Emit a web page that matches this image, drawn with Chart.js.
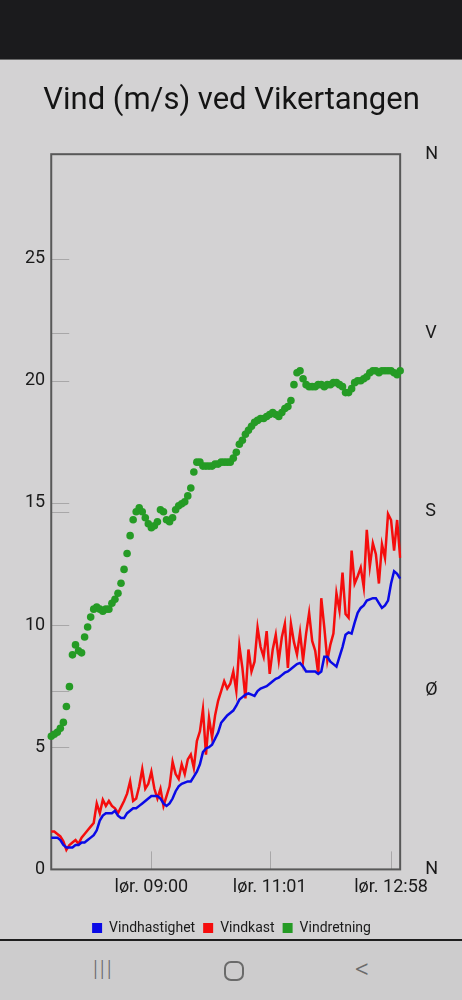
<!DOCTYPE html>
<html>
<head>
<meta charset="utf-8">
<script src="https://cdn.jsdelivr.net/npm/chart.js@4.4.1/dist/chart.umd.min.js"></script>
<style>
  html, body { margin: 0; padding: 0; width: 462px; height: 1000px; overflow: hidden; background: #d3d2d3; font-family: Roboto, "Noto Sans", sans-serif; }
  #status { position: absolute; left: 0; top: 0; width: 462px; height: 60px; background: #1b1b1d; border-bottom: 1px solid #6a6a6a; box-sizing: border-box; }
  #wrap { position: absolute; left: 0; top: 60px; width: 462px; height: 891px; }
  #nav { position: absolute; left: 0; top: 939px; width: 462px; height: 61px; background: #cdcccd; border-top: 2px solid #1e1e1e; box-sizing: border-box; }
  .navi { position: absolute; top: 14px; color: #6a6a6a; font-family: Roboto, sans-serif; font-weight: 300; font-size: 22px; line-height: 28px; }
  #n1 { left: 93px; letter-spacing: 2px; }
  #n2 { left: 224px; top: 20px; width: 16px; height: 16px; border: 2px solid #6a6a6a; border-radius: 7px; }
  #n3 { left: 355px; font-size: 28px; }
</style>
</head>
<body>
<div id="status"></div>
<div id="wrap"><canvas id="c"></canvas></div>
<div id="nav"><div class="navi" id="n1">|||</div><div class="navi" id="n2"></div><div class="navi" id="n3">&lt;</div></div>
<script>
const titleText = "Vind (m/s) ved Vikertangen";
const dayPrefix = "lør.";
const timeLabels = ["07:21","07:24","07:27","07:30","07:33","07:36","07:39","07:42","07:45","07:48","07:51","07:54","07:57","08:00","08:03","08:06","08:09","08:12","08:15","08:18","08:21","08:24","08:27","08:30","08:33","08:36","08:39","08:42","08:45","08:48","08:51","08:54","08:57","09:00",
"09:03","09:06","09:09","09:12","09:15","09:18","09:21","09:24","09:27","09:31","09:34","09:37","09:40","09:43","09:46","09:49","09:52","09:56","09:59","10:02","10:05","10:08","10:11","10:14","10:17","10:20","10:24","10:27","10:30","10:33","10:36","10:39","10:42","10:45","10:48","10:51","10:55","10:58","11:01",
"11:04","11:07","11:10","11:13","11:16","11:19","11:22","11:25","11:27","11:30","11:33","11:36","11:39","11:42","11:45","11:48","11:51","11:54","11:57","12:00","12:03","12:05","12:08","12:11","12:14","12:17","12:20","12:23","12:26","12:29","12:32","12:35","12:37","12:40","12:43","12:46","12:49","12:52","12:55","12:58","13:01","13:04","13:07"];
const shownTimes = ["09:00","11:01","12:58"];

const windSpeed = [1.3,1.3,1.3,1.2,1.0,0.9,0.9,0.9,1.0,1.0,1.1,1.1,1.2,1.3,1.4,1.6,2.0,2.2,2.3,2.3,
2.3,2.4,2.2,2.1,2.1,2.3,2.4,2.5,2.5,2.6,2.7,2.8,2.9,3.0,3.0,3.0,2.9,2.7,2.6,2.7,
2.9,3.2,3.4,3.5,3.55,3.6,3.6,3.8,4.0,4.3,4.8,4.95,5.0,5.1,5.35,5.6,6.0,6.15,6.3,6.4,
6.5,6.7,6.95,7.05,7.15,7.2,7.15,7.1,7.3,7.4,7.45,7.5,7.6,7.7,7.8,7.85,7.95,8.05,8.1,8.2,
8.3,8.4,8.45,8.3,8.1,8.1,8.1,8.1,8.0,8.1,8.7,8.7,8.5,8.4,8.3,8.7,9.1,9.6,9.7,9.65,
10.1,10.5,10.7,10.8,11.0,11.05,11.1,11.1,10.9,10.7,10.8,11.0,11.7,12.2,12.1,11.9];

const windGust = [1.55,1.55,1.45,1.35,1.15,0.8,1.0,1.1,1.2,1.05,1.3,1.45,1.6,1.75,1.9,2.7,2.3,2.85,2.6,2.8,
2.6,2.5,2.3,2.55,2.8,3.1,3.6,2.8,2.9,3.4,4.1,3.3,3.5,4.0,3.3,2.9,3.3,2.6,3.0,3.4,
4.4,3.9,3.7,4.3,3.9,4.5,4.7,4.15,5.25,5.65,6.55,4.7,6.2,5.4,6.3,6.9,7.3,7.7,7.4,7.6,
8.1,7.3,9.15,8.25,7.0,9.0,8.1,8.5,9.9,9.1,8.7,9.75,8.0,9.0,9.6,8.55,9.5,10.05,8.25,10.05,
9.3,8.8,9.7,8.55,9.65,10.5,9.35,8.95,8.0,11.1,9.9,8.55,9.2,9.65,11.3,10.6,12.15,10.45,10.3,13.05,
11.7,12.0,12.35,11.55,13.9,12.4,13.35,12.9,11.7,13.3,12.75,14.55,14.3,13.05,14.3,12.75];

const windDir = [67,68,69,71,74,82,92,108,113,110,109,117,122,127,131,132,131,130,131,131,
134,136,139,144,151,159,168,176,180,182,180,177,174,172,173,175,181,180,176,175,
177,181,183,184,185,188,192,200,205,205,203,203,203,203,204,204,205,205,205,205,
207,210,214,216,219,221,223,225,226,227,227,228,229,230,229,228,230,232,233,236,
244,250,251,247,244,243,243,243,244,244,243,244,244,245,245,244,243,240,240,242,
245,246,246,247,248,250,251,251,250,251,251,251,251,250,249,251];

const speedTicks = [0,5,10,15,20,25];
const dirTickLabels = ["N","Ø","S","V","N"];
const seriesNames = ["Vindhastighet","Vindkast","Vindretning"];
const seriesColors = ["#0a0ae6","#f50d0d","#259b25"];

const framePlugin = {
  id: 'framePlugin',
  beforeDatasetsDraw(chart) {
    const {ctx, chartArea: a, scales} = chart;
    ctx.save();
    ctx.strokeStyle = '#a8a7a8';
    ctx.lineWidth = 1;
    ctx.beginPath();
    [scales.y, scales.y1].forEach(s => {
      s.ticks.forEach(t => {
        const py = Math.round(s.getPixelForValue(t.value)) + 0.5;
        ctx.moveTo(a.left, py); ctx.lineTo(a.left + 18, py);
      });
    });
    scales.x.ticks.forEach(t => {
      if (shownTimes.includes(timeLabels[t.value])) {
        const px = Math.round(scales.x.getPixelForValue(t.value)) + 0.5;
        ctx.moveTo(px, a.bottom); ctx.lineTo(px, a.bottom - 18);
      }
    });
    ctx.stroke();
    ctx.strokeStyle = '#585858';
    ctx.lineWidth = 2;
    ctx.strokeRect(a.left, a.top, a.right - a.left, a.bottom - a.top);
    ctx.restore();
  }
};

const tickFont = { family: 'Roboto', size: 18 };

new Chart(document.getElementById('c'), {
  type: 'line',
  data: {
    labels: timeLabels,
    datasets: [
      { label: seriesNames[0], data: windSpeed, borderColor: seriesColors[0], backgroundColor: seriesColors[0], borderWidth: 2.5, pointRadius: 0, yAxisID: 'y', tension: 0 },
      { label: seriesNames[1], data: windGust, borderColor: seriesColors[1], backgroundColor: seriesColors[1], borderWidth: 2.5, pointRadius: 0, yAxisID: 'y', tension: 0 },
      { label: seriesNames[2], data: windDir, borderColor: seriesColors[2], backgroundColor: seriesColors[2], showLine: false, pointRadius: 3.8, pointBorderWidth: 0, yAxisID: 'y1' }
    ]
  },
  options: {
    responsive: true,
    maintainAspectRatio: false,
    devicePixelRatio: 1,
    animation: false,
    layout: { padding: { left: 25, right: 24, top: 0, bottom: 6 } },
    plugins: {
      title: { display: true, text: titleText, color: '#141414', font: { family: 'Roboto', size: 31, weight: 'normal' }, padding: { top: 23, bottom: 34 } },
      legend: {
        position: 'bottom',
        labels: {
          color: '#1a1a1a', font: { family: 'Roboto', size: 14 }, boxWidth: 10, boxHeight: 10, padding: 8,
          generateLabels(chart) {
            return Chart.defaults.plugins.legend.labels.generateLabels(chart).map(l => Object.assign(l, { lineWidth: 0 }));
          }
        }
      },
      tooltip: { enabled: false }
    },
    scales: {
      x: {
        grid: { display: false, drawTicks: false },
        border: { display: false },
        afterFit(s) { s.height += 8; },
        ticks: {
          autoSkip: false, maxRotation: 0, minRotation: 0, padding: 7, color: '#1a1a1a', font: tickFont,
          callback(value) { const l = timeLabels[value]; return shownTimes.includes(l) ? dayPrefix + " " + l : ""; }
        }
      },
      y: {
        position: 'left', min: 0, max: 29.27,
        afterBuildTicks(s) { s.ticks = speedTicks.map(v => ({ value: v })); },
        afterFit(s) { s.width -= 6; },
        grid: { display: false, drawTicks: false }, border: { display: false },
        ticks: { padding: 6, color: '#1a1a1a', font: tickFont }
      },
      y1: {
        position: 'right', min: 0, max: 360,
        afterBuildTicks(s) { s.ticks = dirTickLabels.map((l, i) => ({ value: i * 90 })); },
        afterFit(s) { s.width -= 25; },
        grid: { display: false, drawTicks: false }, border: { display: false },
        ticks: { padding: 25, color: '#1a1a1a', font: tickFont, callback(value) { return dirTickLabels[Math.round(value / 90)]; } }
      }
    }
  },
  plugins: [framePlugin]
});
</script>
</body>
</html>
